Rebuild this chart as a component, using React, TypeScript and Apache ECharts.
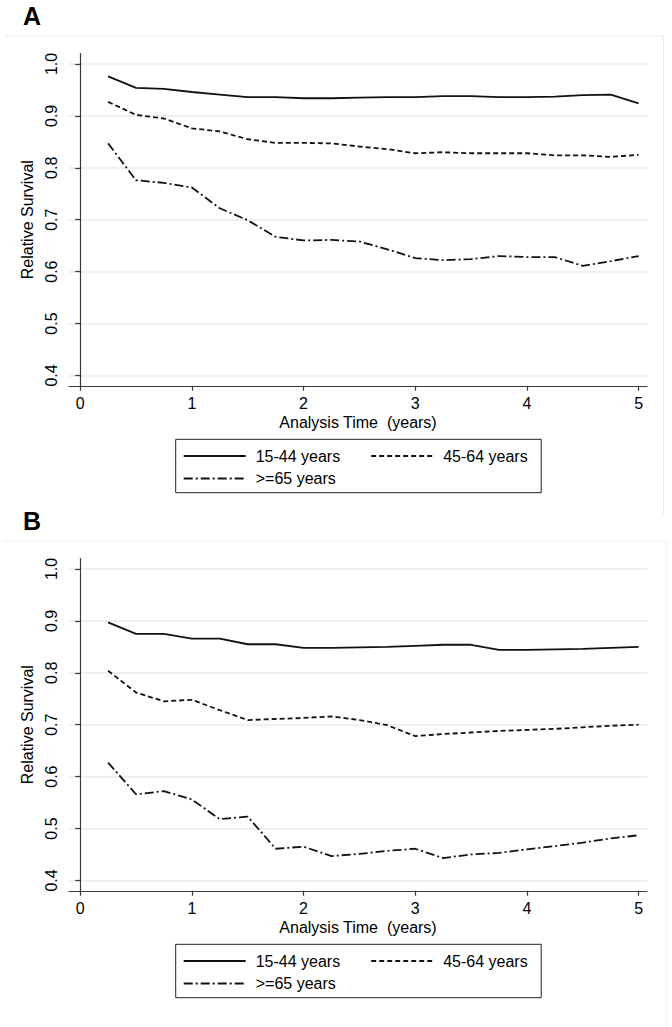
import React, { useEffect, useRef } from "react";
import * as echarts from "echarts";

// Analysis time (years) at which relative survival is estimated (quarterly)
const times = [0.25, 0.5, 0.75, 1.0, 1.25, 1.5, 1.75, 2.0, 2.25, 2.5, 2.75, 3.0, 3.25, 3.5, 3.75, 4.0, 4.25, 4.5, 4.75, 5.0];

const seriesNames = ["15-44 years", "45-64 years", ">=65 years"];

// Panel A
const a15to44 = [0.976, 0.954, 0.952, 0.946, 0.941, 0.936, 0.936, 0.934, 0.934, 0.935, 0.936, 0.936, 0.938, 0.938, 0.936, 0.936, 0.937, 0.940, 0.941, 0.924];
const a45to64 = [0.927, 0.902, 0.895, 0.876, 0.870, 0.855, 0.848, 0.848, 0.847, 0.841, 0.836, 0.828, 0.830, 0.828, 0.828, 0.828, 0.824, 0.824, 0.821, 0.825];
const a65plus = [0.847, 0.776, 0.771, 0.762, 0.722, 0.699, 0.667, 0.660, 0.661, 0.658, 0.643, 0.626, 0.622, 0.624, 0.630, 0.628, 0.628, 0.611, 0.620, 0.630];

// Panel B
const b15to44 = [0.897, 0.875, 0.875, 0.866, 0.866, 0.855, 0.855, 0.848, 0.848, 0.849, 0.850, 0.852, 0.854, 0.854, 0.844, 0.844, 0.845, 0.846, 0.848, 0.850];
const b45to64 = [0.804, 0.762, 0.745, 0.748, 0.728, 0.709, 0.711, 0.713, 0.716, 0.709, 0.699, 0.678, 0.682, 0.685, 0.688, 0.690, 0.692, 0.695, 0.698, 0.700];
const b65plus = [0.627, 0.566, 0.572, 0.556, 0.518, 0.523, 0.461, 0.465, 0.447, 0.451, 0.457, 0.461, 0.443, 0.450, 0.453, 0.460, 0.466, 0.473, 0.481, 0.487];

const xTicks = [0, 1, 2, 3, 4, 5];
const yTicks = [0.4, 0.5, 0.6, 0.7, 0.8, 0.9, 1.0];

const FONT = "'Liberation Sans', Arial, Helvetica, sans-serif";
const LINE_COLOR = "#111111";
const AXIS_COLOR = "#3a3a3a";
const GRID_COLOR = "#e4edef";
const dashStyles: any[] = ["solid", [5, 3], [9, 3, 2, 3]];

function pairs(vals: number[]) {
  return times.map((t, i) => [t, vals[i]]);
}

function makeXAxis(gridIndex: number) {
  return {
    type: "value",
    gridIndex,
    min: -0.1,
    max: 5.075,
    name: "Analysis Time  (years)",
    nameLocation: "middle",
    nameGap: 29,
    nameTextStyle: { fontFamily: FONT, fontSize: 16, color: "#000" },
    axisLine: { show: true, lineStyle: { color: AXIS_COLOR, width: 1.2 } },
    axisTick: { show: true, customValues: xTicks, length: 5, lineStyle: { color: AXIS_COLOR, width: 1.2 } },
    axisLabel: { customValues: xTicks, fontFamily: FONT, fontSize: 16, color: "#000", margin: 10 },
    splitLine: { show: false },
  };
}

function makeYAxis(gridIndex: number) {
  return {
    type: "value",
    gridIndex,
    min: 0.38,
    max: 1.02,
    name: "Relative Survival",
    nameLocation: "middle",
    nameGap: 28,
    nameTextStyle: { fontFamily: FONT, fontSize: 16, color: "#000" },
    axisLine: { show: true, lineStyle: { color: AXIS_COLOR, width: 1.2 } },
    axisTick: { show: true, customValues: yTicks, length: 5, lineStyle: { color: AXIS_COLOR, width: 1.2 } },
    axisLabel: {
      customValues: yTicks,
      rotate: 90,
      fontFamily: FONT,
      fontSize: 16,
      color: "#000",
      margin: 10,
      formatter: (v: number) => v.toFixed(1),
    },
    splitLine: { show: true, lineStyle: { color: GRID_COLOR, width: 1.5 } },
  };
}

function makeSeries(name: string, vals: number[], idx: number, panel: number) {
  return {
    type: "line",
    name,
    xAxisIndex: panel,
    yAxisIndex: panel,
    data: pairs(vals),
    symbol: "none",
    showSymbol: false,
    lineStyle: { color: LINE_COLOR, width: 1.8, type: dashStyles[idx] },
    itemStyle: { color: LINE_COLOR },
    z: 3,
  };
}

function makeLegend(names: string[], left: number, top: number) {
  return {
    data: names,
    left,
    top,
    orient: "horizontal",
    padding: 0,
    itemGap: 30,
    itemWidth: 62,
    itemHeight: 14,
    selectedMode: false,
    itemStyle: { opacity: 0 },
    textStyle: { fontFamily: FONT, fontSize: 16, color: "#000", padding: [0, 0, 0, 5] },
  };
}

const PANEL_OFFSET = 505;

export default function App() {
  const ref = useRef<HTMLDivElement>(null);

  useEffect(() => {
    if (!ref.current) return;
    const chart = echarts.init(ref.current, undefined, { renderer: "svg" });

    const graphic: any[] = [];
    ["A", "B"].forEach((label, p) => {
      const off = p * PANEL_OFFSET;
      const frameRight = p === 0 ? 663.5 : 667;
      graphic.push(
        {
          type: "line",
          shape: { x1: 3, y1: 36 + off, x2: frameRight, y2: 36 + off },
          style: { stroke: "#eaf0f0", lineWidth: 1 },
          silent: true,
        },
        {
          type: "line",
          shape: { x1: frameRight, y1: 36 + off, x2: frameRight, y2: p === 0 ? 515 : 1027 },
          style: { stroke: "#eaf0f0", lineWidth: 1 },
          silent: true,
        },
        {
          type: "text",
          x: 23,
          y: 3 + off,
          style: { text: label, font: `bold 25px ${FONT}`, fill: "#000" },
          silent: true,
        },
        {
          type: "rect",
          shape: { x: 175.7, y: 439.3 + off, width: 365.5, height: 53.4 },
          style: { fill: "none", stroke: "#222", lineWidth: 1 },
          silent: true,
        }
      );
    });

    const option: any = {
      animation: false,
      backgroundColor: "#ffffff",
      grid: [
        { left: 69, top: 53.6, width: 578, height: 332.2 },
        { left: 69, top: 53.6 + PANEL_OFFSET, width: 578, height: 332.2 },
      ],
      xAxis: [makeXAxis(0), makeXAxis(1)],
      yAxis: [makeYAxis(0), makeYAxis(1)],
      legend: [
        makeLegend([seriesNames[0], seriesNames[1]], 182.7, 448),
        makeLegend([seriesNames[2]], 182.7, 470.5),
        makeLegend([seriesNames[0], seriesNames[1]], 182.7, 448 + PANEL_OFFSET),
        makeLegend([seriesNames[2]], 182.7, 470.5 + PANEL_OFFSET),
      ],
      series: [
        makeSeries(seriesNames[0], a15to44, 0, 0),
        makeSeries(seriesNames[1], a45to64, 1, 0),
        makeSeries(seriesNames[2], a65plus, 2, 0),
        makeSeries(seriesNames[0], b15to44, 0, 1),
        makeSeries(seriesNames[1], b45to64, 1, 1),
        makeSeries(seriesNames[2], b65plus, 2, 1),
      ],
      graphic,
    };

    chart.setOption(option);
    return () => chart.dispose();
  }, []);

  return (
    <div
      ref={ref}
      style={{ position: "fixed", left: 0, top: 0, width: 672, height: 1027, background: "#fff" }}
    />
  );
}
